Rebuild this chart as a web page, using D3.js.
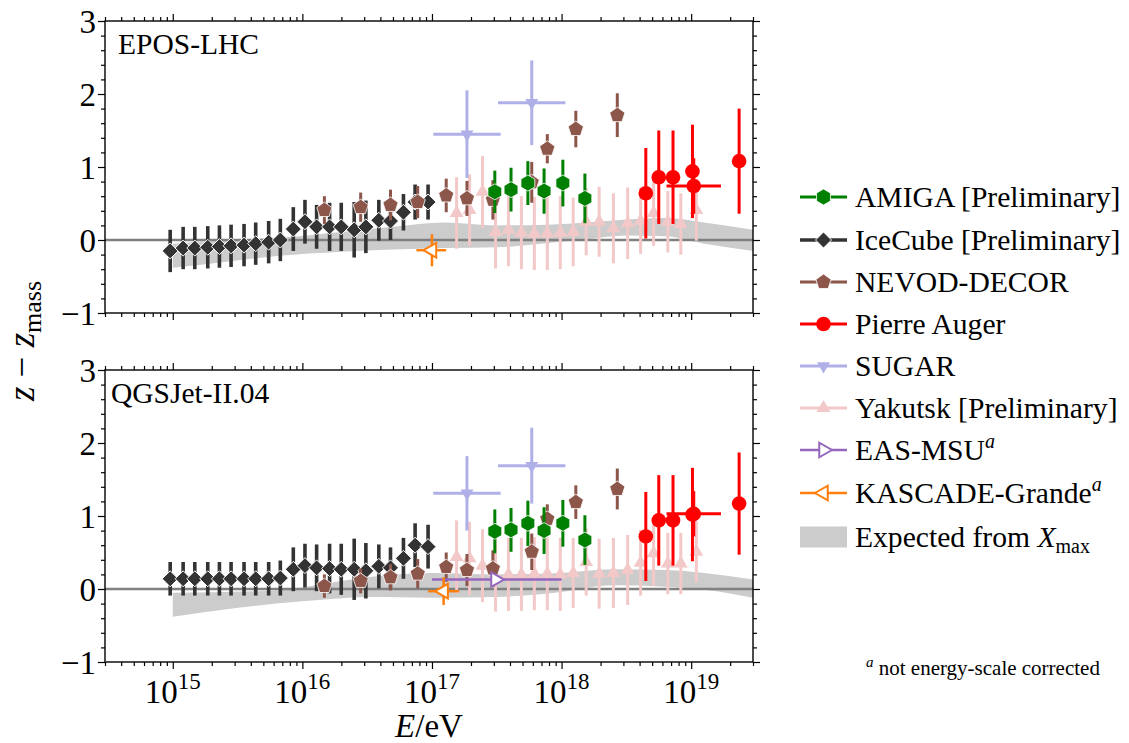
<!DOCTYPE html>
<html><head><meta charset="utf-8">
<script src="https://cdn.jsdelivr.net/npm/d3@7"></script>
<style>
body{margin:0;background:#fff;}
text{font-family:"Liberation Serif","Times New Roman",serif;fill:#000;}
</style>
</head><body>
<svg id="c" width="1129" height="743"></svg>
<script>
// ---------------- DATA (log10 E/eV, z - z_mass) ----------------
const panelNames = ["EPOS-LHC", "QGSJet-II.04"];

// IceCube [Preliminary]
const iceLogE = [14.98,15.08,15.17,15.27,15.36,15.45,15.55,15.64,15.74,15.83,15.93,16.02,16.11,16.21,16.30,16.40,16.49,16.59,16.68,16.78,16.87,16.97];
const iceZ_epos = [-0.15,-0.11,-0.11,-0.10,-0.09,-0.08,-0.07,-0.05,-0.03,0.00,0.15,0.25,0.18,0.18,0.18,0.14,0.18,0.27,0.26,0.38,0.52,0.52];
const iceErr_epos = [0.29,0.29,0.29,0.29,0.29,0.29,0.29,0.29,0.29,0.29,0.30,0.30,0.30,0.33,0.33,0.38,0.36,0.28,0.26,0.25,0.24,0.24];
const iceZ_qgs = [0.14,0.14,0.14,0.14,0.14,0.14,0.14,0.14,0.14,0.15,0.27,0.32,0.29,0.28,0.27,0.27,0.25,0.31,0.29,0.42,0.60,0.58];
const iceErr_qgs = [0.23,0.23,0.23,0.23,0.23,0.23,0.23,0.23,0.23,0.24,0.30,0.30,0.32,0.34,0.35,0.42,0.38,0.30,0.28,0.28,0.30,0.30];

// NEVOD-DECOR
const nevLogE = [16.17,16.45,16.68,16.89,17.11,17.27,17.47,17.77,17.89,18.11,18.43];
const nevZ_epos = [0.41,0.45,0.48,0.52,0.61,0.57,0.55,0.79,1.25,1.52,1.71];
const nevErr_epos = [0.19,0.20,0.21,0.22,0.23,0.24,0.27,0.28,0.20,0.25,0.30];
const nevZ_qgs = [0.04,0.11,0.16,0.21,0.30,0.26,0.28,0.51,0.96,1.19,1.37];
const nevErr_qgs = [0.16,0.17,0.18,0.20,0.20,0.22,0.25,0.25,0.20,0.23,0.28];

// AMIGA [Preliminary]
const amiLogE = [17.485,17.61,17.74,17.865,18.01,18.18];
const amiZ_epos = [0.66,0.69,0.78,0.67,0.78,0.57];
const amiErr_epos = [0.29,0.30,0.30,0.31,0.32,0.34];
const amiZ_qgs = [0.79,0.81,0.90,0.80,0.90,0.67];
const amiErr_qgs = [0.30,0.30,0.31,0.32,0.32,0.34];

// Pierre Auger
const augLogE = [18.65,18.75,18.86,19.01,19.02,19.37];
const augXLo = [null,null,null,null,18.81,null];
const augXHi = [null,null,null,null,19.23,null];
const augZ_epos = [0.64,0.86,0.86,0.94,0.74,1.08];
const augErr_epos = [0.62,0.64,0.64,0.64,0.38,0.72];
const augZ_qgs = [0.72,0.94,0.94,1.02,1.03,1.17];
const augErr_qgs = [0.61,0.62,0.62,0.64,0.31,0.70];

// SUGAR
const sugLogE = [17.27,17.77];
const sugXLo = [17.01,17.51];
const sugXHi = [17.53,18.03];
const sugZ_epos = [1.45,1.88];
const sugErr_epos = [0.60,0.58];
const sugZ_qgs = [1.31,1.69];
const sugErr_qgs = [0.51,0.52];

// Yakutsk [Preliminary]
const yakLogE = [17.19,17.29,17.39,17.49,17.59,17.69,17.79,17.89,17.99,18.09,18.19,18.29,18.40,18.51,18.61,18.71,18.82,18.92,19.04];
const yakZ_epos = [0.37,0.41,0.66,0.11,0.14,0.10,0.09,0.09,0.10,0.11,0.25,0.25,0.16,0.23,0.26,0.37,0.25,0.22,0.41];
const yakErr_epos = [0.49,0.49,0.49,0.50,0.50,0.50,0.50,0.50,0.50,0.47,0.46,0.48,0.48,0.49,0.45,0.45,0.42,0.42,0.42];
const yakZ_qgs = [0.44,0.42,0.32,0.19,0.20,0.20,0.21,0.21,0.20,0.22,0.37,0.21,0.22,0.26,0.36,0.49,0.35,0.35,0.51];
const yakErr_qgs = [0.50,0.50,0.50,0.50,0.50,0.50,0.50,0.50,0.50,0.48,0.46,0.48,0.48,0.48,0.45,0.45,0.42,0.42,0.42];

// EAS-MSU (QGSJet panel only)
const msuLogE = [17.49], msuXLo = [17.0], msuXHi = [18.0];
const msuZ_qgs = [0.13];

// KASCADE-Grande
const kasLogE_epos = [17.0], kasXLo_epos = [16.88], kasXHi_epos = [17.11];
const kasZ_epos = [-0.14], kasErr_epos = [0.22];
const kasLogE_qgs = [17.09], kasXLo_qgs = [16.97], kasXHi_qgs = [17.21];
const kasZ_qgs = [-0.03], kasErr_qgs = [0.19];

// Expected from Xmax (band)
const bandLogE_epos = [15.0,15.4,15.8,16.3,16.7,17.1,17.5,17.9,18.2,18.5,18.8,19.1,19.477];
const bandLo_epos   = [-0.38,-0.30,-0.22,-0.16,-0.13,-0.11,-0.10,-0.04,0.01,0.06,0.05,-0.05,-0.15];
const bandHi_epos   = [-0.05,0.00,0.03,0.11,0.18,0.24,0.20,0.21,0.24,0.28,0.30,0.24,0.14];
const bandLogE_qgs = [15.0,15.4,15.8,16.2,16.5,17.0,17.5,18.0,18.4,18.8,19.1,19.477];
const bandLo_qgs   = [-0.38,-0.28,-0.20,-0.14,-0.11,-0.12,-0.11,-0.04,0.05,0.03,-0.01,-0.12];
const bandHi_qgs   = [-0.05,-0.04,-0.02,0.08,0.16,0.22,0.20,0.22,0.27,0.26,0.22,0.13];

const xMajor = [15,16,17,18,19];
const yMajor = [-1,0,1,2,3];

// ---------------- DRAWING ----------------
const svg = d3.select("#c");
const X0 = 105, X1 = 753;
const panelY = [[21,313],[370,662]];
const E = l => Math.pow(10, l);
const x = d3.scaleLog().domain([3e14, 3e19]).range([X0, X1]);

const C = {
  ami:"#008000", ice:"#333333", nev:"#8c564b", aug:"#ff0000",
  sug:"#b0b0e8", yak:"#f2c8c8", msu:"#9467bd", kas:"#ff7f0e", band:"#cccccc"
};

function poly(n, r, rotDeg){
  const pts=[];
  for(let i=0;i<n;i++){const a=(rotDeg+360*i/n)*Math.PI/180;pts.push([r*Math.cos(a),r*Math.sin(a)]);}
  return "M"+pts.map(p=>p[0].toFixed(2)+","+p[1].toFixed(2)).join("L")+"Z";
}
const shapes = {
  diamond: r => `M0,${-r}L${r},0L0,${r}L${-r},0Z`,
  pent: r => poly(5,r,-90),
  hex: r => poly(6,r,-90),
  tup: r => poly(3,r,-90),
  tdown: r => poly(3,r,90),
  tright: r => poly(3,r,0),
  tleft: r => poly(3,r,180)
};

function marker(g, cx, cy, m){
  if(m.shape==="circle"){
    g.append("circle").attr("cx",cx).attr("cy",cy).attr("r",m.r)
      .attr("fill",m.color).attr("stroke","none");
  } else {
    g.append("path").attr("d",shapes[m.shape](m.r)).attr("transform",`translate(${cx},${cy})`)
      .attr("fill",m.open?"#fff":m.color)
      .attr("stroke",m.open?m.color:(m.edge||"none"))
      .attr("stroke-width",m.open?2:(m.edgeW||1));
  }
}

function series(g, y, m, logE, z, err, xlo, xhi){
  logE.forEach((l,i)=>{
    const cx = x(E(l)), cy = y(z[i]);
    if(err && err[i]!=null){
      g.append("line").attr("x1",cx).attr("x2",cx).attr("y1",y(z[i]-err[i])).attr("y2",y(z[i]+err[i]))
        .attr("stroke",m.color).attr("stroke-width",m.lw||3);
    }
    if(xlo && xlo[i]!=null){
      g.append("line").attr("x1",x(E(xlo[i]))).attr("x2",x(E(xhi[i]))).attr("y1",cy).attr("y2",cy)
        .attr("stroke",m.color).attr("stroke-width",m.lw||3);
    }
  });
  logE.forEach((l,i)=> marker(g, x(E(l)), y(z[i]), m));
}

const M = {
  ami:{shape:"hex",r:8,color:C.ami,edge:"#fff",edgeW:0.8},
  ice:{shape:"diamond",r:8,color:C.ice,edge:"#fff",edgeW:1,lw:3.6},
  nev:{shape:"pent",r:8,color:C.nev,edge:"#fff",edgeW:0.8},
  aug:{shape:"circle",r:7.3,color:C.aug},
  sug:{shape:"tdown",r:7.5,color:C.sug},
  yak:{shape:"tup",r:8,color:C.yak},
  msu:{shape:"tright",r:8.5,color:C.msu,open:true,lw:2.5},
  kas:{shape:"tleft",r:8.5,color:C.kas,open:true,lw:2.5}
};

const minorX = [];
for(let n=14;n<=19;n++) for(let k=2;k<=9;k++){const v=k*Math.pow(10,n); if(v>=3e14 && v<=3e19) minorX.push(v);}
const minorY = d3.range(-1,3.001,0.2).map(v=>+v.toFixed(1)).filter(v=>!yMajor.includes(v));

panelY.forEach(([top,bot],p)=>{
  const y = d3.scaleLinear().domain([-1,3]).range([bot,top]);
  const g = svg.append("g");
  const clipId = "clip"+p;
  svg.append("clipPath").attr("id",clipId).append("rect").attr("x",X0).attr("y",top).attr("width",X1-X0).attr("height",bot-top);
  const pg = g.append("g").attr("clip-path",`url(#${clipId})`);

  // band
  const bl = p===0?bandLogE_epos:bandLogE_qgs, blo = p===0?bandLo_epos:bandLo_qgs, bhi = p===0?bandHi_epos:bandHi_qgs;
  const area = d3.area().x((d,i)=>x(E(bl[i]))).y0((d,i)=>y(blo[i])).y1((d,i)=>y(bhi[i])).curve(d3.curveMonotoneX);
  pg.append("path").attr("d",area(bl)).attr("fill",C.band);
  // zero line
  pg.append("line").attr("x1",X0).attr("x2",X1).attr("y1",y(0)).attr("y2",y(0)).attr("stroke","#808080").attr("stroke-width",2.5);

  if(p===0){
    series(pg,y,M.yak,yakLogE,yakZ_epos,yakErr_epos);
    series(pg,y,M.sug,sugLogE,sugZ_epos,sugErr_epos,sugXLo,sugXHi);
    series(pg,y,M.ice,iceLogE,iceZ_epos,iceErr_epos);
    series(pg,y,M.nev,nevLogE,nevZ_epos,nevErr_epos);
    series(pg,y,M.ami,amiLogE,amiZ_epos,amiErr_epos);
    series(pg,y,M.aug,augLogE,augZ_epos,augErr_epos,augXLo,augXHi);
    series(pg,y,M.kas,kasLogE_epos,kasZ_epos,kasErr_epos,kasXLo_epos,kasXHi_epos);
  } else {
    series(pg,y,M.yak,yakLogE,yakZ_qgs,yakErr_qgs);
    series(pg,y,M.sug,sugLogE,sugZ_qgs,sugErr_qgs,sugXLo,sugXHi);
    series(pg,y,M.ice,iceLogE,iceZ_qgs,iceErr_qgs);
    series(pg,y,M.nev,nevLogE,nevZ_qgs,nevErr_qgs);
    series(pg,y,M.ami,amiLogE,amiZ_qgs,amiErr_qgs);
    series(pg,y,M.aug,augLogE,augZ_qgs,augErr_qgs,augXLo,augXHi);
    series(pg,y,M.msu,msuLogE,msuZ_qgs,null,msuXLo,msuXHi);
    series(pg,y,M.kas,kasLogE_qgs,kasZ_qgs,kasErr_qgs,kasXLo_qgs,kasXHi_qgs);
  }

  // axes (ticks outward)
  const styleAxis = a => { a.select(".domain").remove(); a.selectAll("line").attr("stroke","#000").attr("stroke-width",1.2); };
  const mk = (axisFn, scale, vals, size, tr) => {
    const a = g.append("g").attr("transform",tr).call(axisFn(scale).tickValues(vals).tickSize(size).tickFormat(""));
    styleAxis(a);
  };
  const xMajVals = xMajor.map(E);
  mk(d3.axisBottom,x,xMajVals,7,`translate(0,${bot})`);
  mk(d3.axisBottom,x,minorX,4,`translate(0,${bot})`);
  mk(d3.axisTop,x,xMajVals,7,`translate(0,${top})`);
  mk(d3.axisTop,x,minorX,4,`translate(0,${top})`);
  mk(d3.axisLeft,y,yMajor,7,`translate(${X0},0)`);
  mk(d3.axisLeft,y,minorY,4,`translate(${X0},0)`);
  mk(d3.axisRight,y,yMajor,7,`translate(${X1},0)`);
  mk(d3.axisRight,y,minorY,4,`translate(${X1},0)`);

  g.append("rect").attr("x",X0).attr("y",top).attr("width",X1-X0).attr("height",bot-top)
    .attr("fill","none").attr("stroke","#000").attr("stroke-width",1.4);

  // y tick labels
  yMajor.forEach(v=>{
    g.append("text").attr("x",96).attr("y",y(v)+11.5).attr("text-anchor","end")
      .style("font-size","33px").text(v<0?"\u2212"+(-v):String(v));
  });

  // panel label
  g.append("text").attr("x",p===0?118:111).attr("y",p===0?54:403).style("font-size","29.5px").text(panelNames[p]);

  if(p===1){
    xMajor.forEach(n=>{
      const t = g.append("text").attr("x",x(E(n))).attr("y",703).attr("text-anchor","middle").style("font-size","33px");
      t.append("tspan").text("10");
      t.append("tspan").attr("dy",-14).style("font-size","23px").text(n);
    });
  }
});

// axis labels
const xl = svg.append("text").attr("x",(X0+X1)/2).attr("y",737).attr("text-anchor","middle").style("font-size","33px");
xl.append("tspan").style("font-style","italic").text("E");
xl.append("tspan").text("/eV");

const yl = svg.append("text").attr("transform","translate(34,341) rotate(-90)").attr("text-anchor","middle").style("font-size","37px");
yl.append("tspan").style("font-style","italic").text("z");
yl.append("tspan").text(" \u2212 ");
yl.append("tspan").style("font-style","italic").text("z");
yl.append("tspan").attr("dy",7).style("font-size","26px").text("mass");

// legend
const legendLabels = [
  [{t:"AMIGA [Preliminary]"}],
  [{t:"IceCube [Preliminary]"}],
  [{t:"NEVOD-DECOR"}],
  [{t:"Pierre Auger"}],
  [{t:"SUGAR"}],
  [{t:"Yakutsk [Preliminary]"}],
  [{t:"EAS-MSU"},{t:"a",sup:true}],
  [{t:"KASCADE-Grande"},{t:"a",sup:true}],
  [{t:"Expected from "},{t:"X",it:true},{t:"max",sub:true}]
];
const legendMarkers = [M.ami,M.ice,M.nev,M.aug,M.sug,M.yak,M.msu,M.kas,null];
const legendRowY = [197,240,282,324,366,408,450,493,537];
const lg = svg.append("g");
legendLabels.forEach((parts,i)=>{
  const cy = legendRowY[i];
  const m = legendMarkers[i];
  if(m){
    lg.append("line").attr("x1",800).attr("x2",847).attr("y1",cy).attr("y2",cy).attr("stroke",m.color).attr("stroke-width",m.lw||3);
    marker(lg,823.5,cy,m);
  } else {
    lg.append("rect").attr("x",800).attr("y",cy-10.5).attr("width",47).attr("height",21).attr("fill",C.band);
  }
  const t = lg.append("text").attr("x",855).attr("y",cy+10).style("font-size","29.6px");
  parts.forEach(pt=>{
    const s = t.append("tspan").text(pt.t);
    if(pt.sup) s.attr("dy",-12).style("font-size","20px").style("font-style","italic");
    if(pt.it) s.style("font-style","italic");
    if(pt.sub) s.attr("dy",6).style("font-size","20px");
  });
});

// footnote
const fn = svg.append("text").attr("x",866).attr("y",675).style("font-size","21px");
fn.append("tspan").attr("dy",-8).style("font-size","15px").style("font-style","italic").text("a");
fn.append("tspan").attr("dy",8).text(" not energy-scale corrected");
</script>
</body></html>
